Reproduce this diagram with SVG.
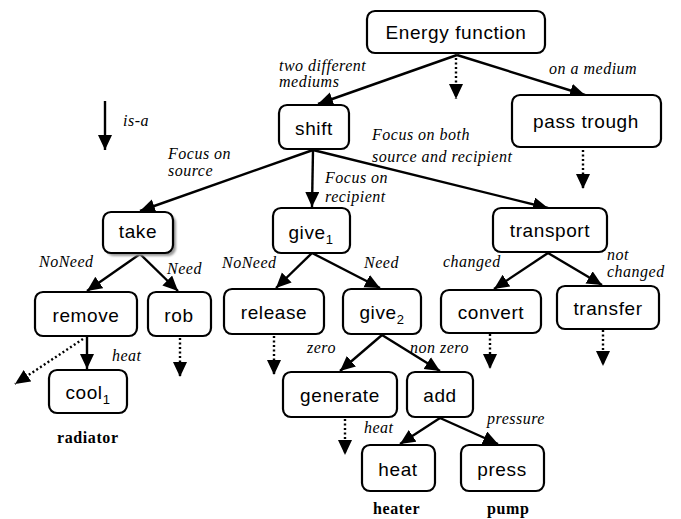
<svg xmlns="http://www.w3.org/2000/svg" width="681" height="519" viewBox="0 0 681 519">
<style>
.box{fill:#fff;stroke:#000;stroke-width:2.2}
.nt{font-family:"Liberation Sans",Arial,sans-serif;font-size:19px;letter-spacing:0.6px;text-anchor:middle;fill:#000}
.sub{font-size:13px}
.lb{font-family:"Liberation Serif","Times New Roman",serif;font-style:italic;font-size:16px;letter-spacing:0.5px;fill:#000}
.bd{font-family:"Liberation Serif","Times New Roman",serif;font-weight:bold;font-size:16px;letter-spacing:0.6px;fill:#000}
.ed{stroke:#000;stroke-width:2.4;fill:none;marker-end:url(#ah)}
.dt{stroke:#000;stroke-width:2.4;fill:none;stroke-dasharray:2,2.5;marker-end:url(#ah)}
</style>
<defs>
<marker id="ah" markerUnits="userSpaceOnUse" markerWidth="16" markerHeight="15" refX="15" refY="7" orient="auto">
<path d="M0,0 L15,7 L0,14 z" fill="#000"/>
</marker>
<filter id="sh" x="-20%" y="-20%" width="140%" height="140%"><feGaussianBlur stdDeviation="1.2"/></filter>
</defs>
<rect width="681" height="519" fill="#fff"/>

<g id="connectors">
<line class="ed" x1="457" y1="55" x2="318" y2="104"/>
<line class="ed" x1="457" y1="55" x2="585" y2="95"/>
<line class="ed" x1="313" y1="150" x2="140" y2="211"/>
<line class="ed" x1="313" y1="150" x2="312" y2="207"/>
<line class="ed" x1="313" y1="150" x2="548" y2="208"/>
<line class="ed" x1="140" y1="254" x2="87" y2="291"/>
<line class="ed" x1="140" y1="254" x2="178" y2="291"/>
<line class="ed" x1="87" y1="336" x2="87" y2="369"/>
<line class="ed" x1="312" y1="253" x2="276" y2="288"/>
<line class="ed" x1="312" y1="253" x2="380" y2="288"/>
<line class="ed" x1="548" y1="253" x2="494" y2="289"/>
<line class="ed" x1="548" y1="253" x2="602" y2="285"/>
<line class="ed" x1="382" y1="335" x2="340" y2="371"/>
<line class="ed" x1="382" y1="335" x2="440" y2="371"/>
<line class="ed" x1="440" y1="418" x2="400" y2="444"/>
<line class="ed" x1="440" y1="418" x2="498" y2="444"/>
<line class="ed" x1="105" y1="101" x2="105" y2="150"/>
<line class="dt" x1="456" y1="58" x2="456" y2="99"/>
<line class="dt" x1="583" y1="150" x2="583" y2="189"/>
<line class="dt" x1="83" y1="339" x2="15" y2="384"/>
<line class="dt" x1="180" y1="338" x2="180" y2="377"/>
<line class="dt" x1="274" y1="336" x2="274" y2="375"/>
<line class="dt" x1="490" y1="334" x2="490" y2="369"/>
<line class="dt" x1="603" y1="330" x2="603" y2="366"/>
<line class="dt" x1="345" y1="419" x2="345" y2="455"/>
</g>

<g id="energy-function"><rect class="box" x="367" y="11" width="178" height="42" rx="8"/><text class="nt" x="456" y="39">Energy function</text></g>
<g id="shift"><rect class="box" x="279" y="105" width="70" height="44" rx="8"/><text class="nt" x="314" y="135">shift</text></g>
<g id="pass-trough"><rect class="box" x="512" y="95" width="149" height="52" rx="8"/><text class="nt" x="586" y="128">pass trough</text></g>
<g id="take"><rect x="106" y="215" width="70" height="41" rx="8" fill="#999" filter="url(#sh)"/><rect class="box" x="103" y="212" width="70" height="41" rx="8"/><text class="nt" x="138" y="238">take</text></g>
<g id="give1"><rect class="box" x="273" y="208" width="77" height="45" rx="8"/><text class="nt" x="311" y="239">give<tspan class="sub" dy="5">1</tspan></text></g>
<g id="transport"><rect class="box" x="493" y="208" width="114" height="44" rx="8"/><text class="nt" x="550" y="237">transport</text></g>
<g id="remove"><rect class="box" x="35" y="292" width="102" height="44" rx="8"/><text class="nt" x="86" y="322">remove</text></g>
<g id="rob"><rect class="box" x="148" y="292" width="63" height="44" rx="8"/><text class="nt" x="179" y="322">rob</text></g>
<g id="release"><rect class="box" x="224" y="289" width="100" height="45" rx="8"/><text class="nt" x="274" y="319">release</text></g>
<g id="give2"><rect class="box" x="343" y="289" width="78" height="45" rx="8"/><text class="nt" x="382" y="319">give<tspan class="sub" dy="5">2</tspan></text></g>
<g id="convert"><rect class="box" x="441" y="290" width="100" height="43" rx="8"/><text class="nt" x="491" y="319">convert</text></g>
<g id="transfer"><rect class="box" x="557" y="286" width="102" height="43" rx="8"/><text class="nt" x="608" y="315">transfer</text></g>
<g id="cool1"><rect class="box" x="49" y="370" width="78" height="43" rx="8"/><text class="nt" x="88" y="399">cool<tspan class="sub" dy="5">1</tspan></text></g>
<g id="generate"><rect class="box" x="283" y="372" width="114" height="45" rx="8"/><text class="nt" x="340" y="402">generate</text></g>
<g id="add"><rect class="box" x="407" y="372" width="66" height="45" rx="8"/><text class="nt" x="440" y="402">add</text></g>
<g id="heat"><rect class="box" x="362" y="445" width="73" height="46" rx="8"/><text class="nt" x="398" y="476">heat</text></g>
<g id="press"><rect class="box" x="461" y="445" width="83" height="46" rx="8"/><text class="nt" x="502" y="476">press</text></g>

<g id="labels">
<text class="lb" x="279" y="71">two different</text>
<text class="lb" x="279" y="87">mediums</text>
<text class="lb" x="549" y="74">on a medium</text>
<text class="lb" x="123" y="126">is-a</text>
<text class="lb" x="168" y="159">Focus on</text>
<text class="lb" x="168" y="176">source</text>
<text class="lb" x="372" y="140">Focus on both</text>
<text class="lb" x="372" y="162">source and recipient</text>
<text class="lb" x="325" y="183">Focus on</text>
<text class="lb" x="325" y="202">recipient</text>
<text class="lb" x="39" y="267">NoNeed</text>
<text class="lb" x="167" y="274">Need</text>
<text class="lb" x="222" y="268">NoNeed</text>
<text class="lb" x="364" y="268">Need</text>
<text class="lb" x="443" y="267">changed</text>
<text class="lb" x="607" y="260">not</text>
<text class="lb" x="607" y="277">changed</text>
<text class="lb" x="112" y="361">heat</text>
<text class="lb" x="307" y="353">zero</text>
<text class="lb" x="410" y="353">non zero</text>
<text class="lb" x="364" y="433">heat</text>
<text class="lb" x="487" y="424">pressure</text>
<text class="bd" x="57" y="443">radiator</text>
<text class="bd" x="373" y="514">heater</text>
<text class="bd" x="487" y="514">pump</text>
</g>
</svg>
